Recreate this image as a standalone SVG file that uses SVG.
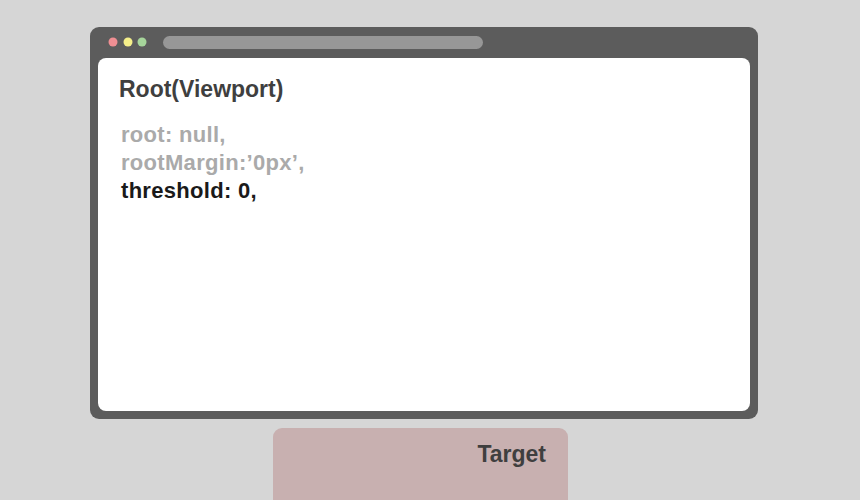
<svg xmlns="http://www.w3.org/2000/svg" width="860" height="500" viewBox="0 0 860 500">
<style>
.t{font-family:"Liberation Sans",Arial,sans-serif;font-weight:bold}
.opt{font-size:22px;letter-spacing:0.3px}
</style>
<rect width="860" height="500" fill="#d6d6d6"/>
<g id="browser">
<rect x="90" y="27" width="668" height="392" rx="9" fill="#5c5c5c"/>
<circle cx="113" cy="42" r="4.5" fill="#ef8f93"/>
<circle cx="128" cy="42" r="4.5" fill="#f5ef8a"/>
<circle cx="142" cy="42" r="4.5" fill="#a6d59b"/>
<rect x="163" y="36" width="320" height="13" rx="6.5" fill="#979797"/>
<rect x="98" y="58" width="652" height="353" rx="8" fill="#ffffff"/>
<text class="t" x="119" y="97" font-size="23" fill="#3f3f3f">Root(Viewport)</text>
<text class="t opt" x="121" y="142" fill="#aaaaaa">root: null,</text>
<text class="t opt" x="121" y="170" fill="#aaaaaa">rootMargin:’0px’,</text>
<text class="t opt" x="121" y="198" fill="#1a1a1a">threshold: 0,</text>
</g>
<g id="target">
<rect x="273" y="428" width="295" height="90" rx="9" fill="#c8b0b0"/>
<text class="t" x="546" y="462" font-size="23" fill="#3f3f3f" text-anchor="end">Target</text>
</g>
<g id="connectors"/>
</svg>
